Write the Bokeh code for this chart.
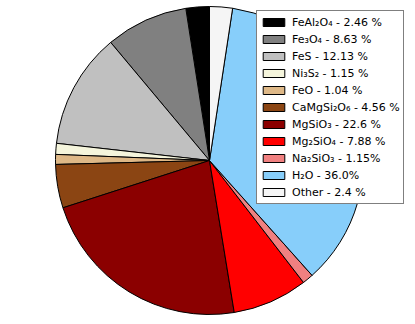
import math
from bokeh.plotting import figure
from bokeh.models import Range1d, Legend, LegendItem, ColumnDataSource
from bokeh.embed import file_html
from bokeh.resources import INLINE

labels = ["FeAl₂O₄ - 2.46 %", "Fe₃O₄ - 8.63 %", "FeS - 12.13 %", "Ni₃S₂ - 1.15 %",
          "FeO - 1.04 %", "CaMgSi₂O₆ - 4.56 %", "MgSiO₃ - 22.6 %", "Mg₂SiO₄ - 7.88 %",
          "Na₂SiO₃ - 1.15%", "H₂O - 36.0%", "Other - 2.4 %"]
values = [2.46, 8.63, 12.13, 1.15, 1.04, 4.56, 22.6, 7.88, 1.15, 36.0, 2.4]
colors = ["#000000", "#808080", "#c0c0c0", "#f5f5dc", "#deb887", "#8b4513",
          "#8b0000", "#ff0000", "#f08080", "#87cefa", "#f5f5f5"]

W, H = 406, 316
p = figure(width=W, height=H, output_backend="svg", toolbar_location=None,
           x_range=Range1d(0, W), y_range=Range1d(0, H), min_border=0)
p.axis.visible = False
p.grid.visible = False
p.outline_line_color = None
p.background_fill_color = "white"

total = sum(values)
cx, cy, r = 209, 156, 154
starts, ends = [], []
acc = 0.0
for v in values:
    starts.append(math.pi / 2 + 2 * math.pi * acc / total)
    acc += v
    ends.append(math.pi / 2 + 2 * math.pi * acc / total)

items = []
for i in range(len(values)):
    src = ColumnDataSource(dict(x=[cx], y=[cy], s=[starts[i]], e=[ends[i]]))
    g = p.wedge(x="x", y="y", radius=r, start_angle="s", end_angle="e", source=src,
                fill_color=colors[i], line_color="black", line_width=1)
    items.append(LegendItem(label=labels[i], renderers=[g]))

legend = Legend(items=items, location=(256, 112))
legend.label_text_font = "DejaVu Sans"
legend.label_text_font_size = "11px"
legend.label_text_color = "black"
legend.glyph_width = 27
legend.glyph_height = 10
legend.label_height = 16
legend.label_standoff = 5
legend.spacing = 1
legend.padding = 3
legend.margin = 0
legend.border_line_color = "black"
legend.border_line_width = 1
legend.background_fill_alpha = 1.0
p.add_layout(legend, "center")

open("out.html", "w").write(file_html(p, INLINE))
